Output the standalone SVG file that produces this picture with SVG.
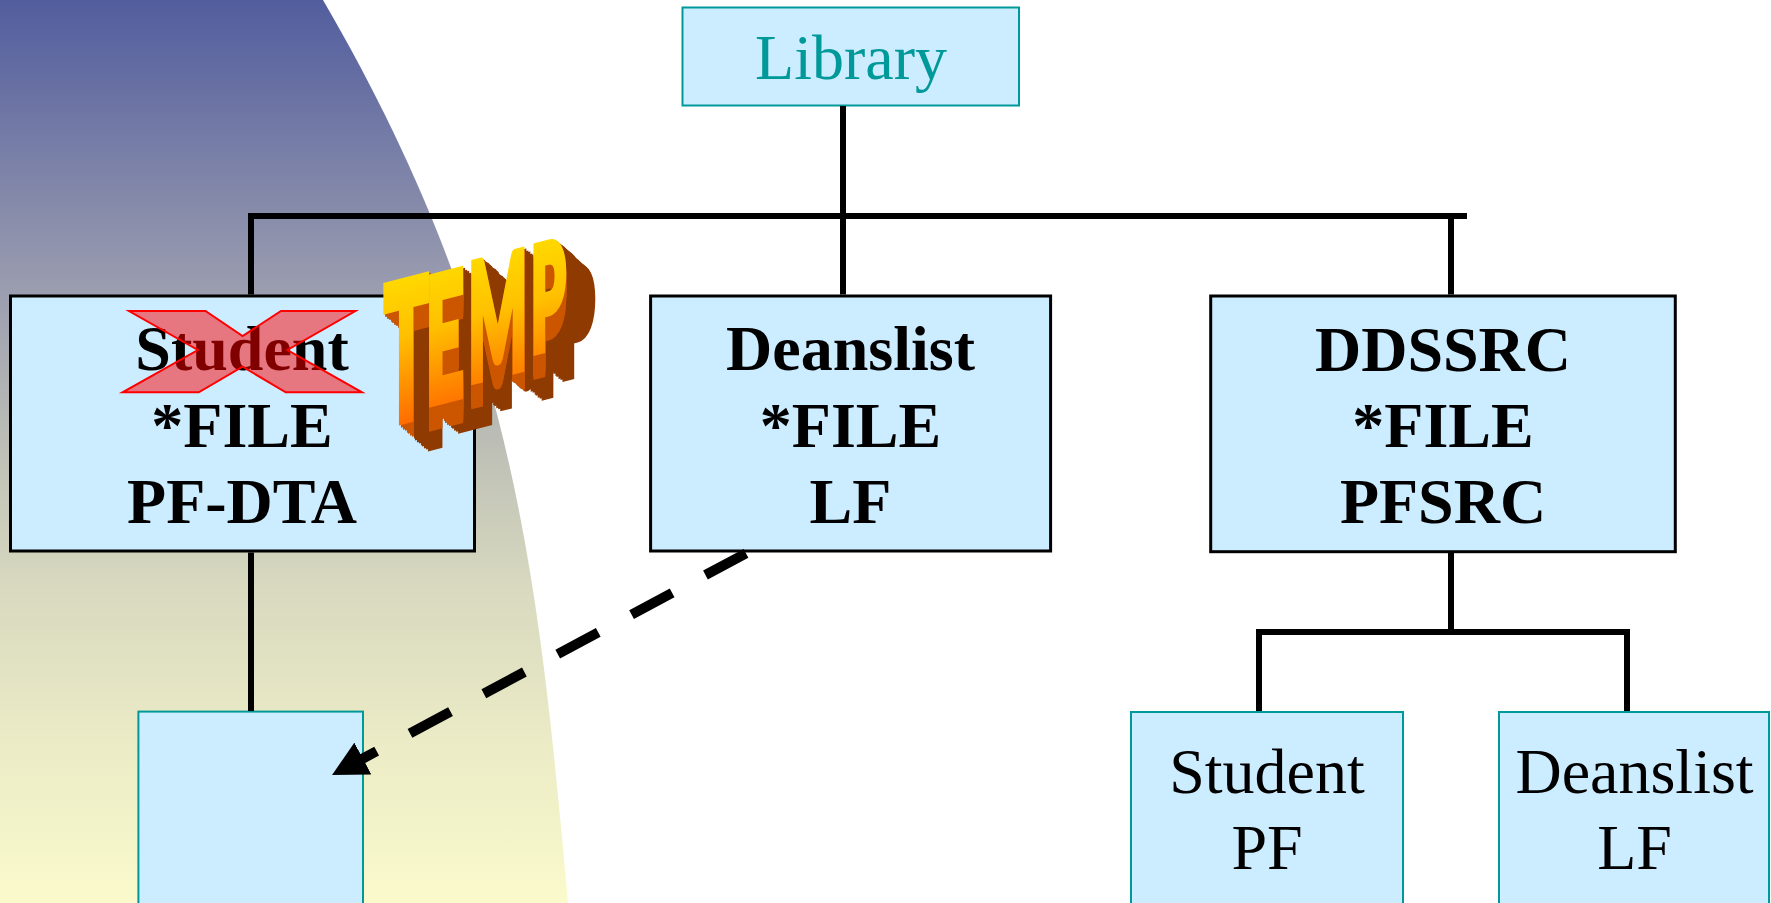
<svg xmlns="http://www.w3.org/2000/svg" width="1771" height="903" viewBox="0 0 1771 903">
  <style>
    .box { fill: #CCECFF; stroke: #000; stroke-width: 3; }
    .tbox { fill: #CCECFF; stroke: #009999; stroke-width: 2; }
    .bold { font-family: "Liberation Serif", "Times New Roman", serif; font-size: 64px; font-weight: bold; text-anchor: middle; fill: #000; }
    .reg { font-family: "Liberation Serif", "Times New Roman", serif; font-size: 64px; text-anchor: middle; fill: #000; }
    .conn { fill: none; stroke: #000; stroke-width: 6; stroke-linejoin: miter; }
    .dash { fill: none; stroke: #000; stroke-width: 10; stroke-dasharray: 46 37.8; }
  </style>
  <defs>
    <linearGradient id="bg" gradientUnits="userSpaceOnUse" x1="0" y1="0" x2="0" y2="903">
      <stop offset="0" stop-color="#525D9E"/>
      <stop offset="0.3" stop-color="#9699AE"/>
      <stop offset="0.5" stop-color="#BEC0B6"/>
      <stop offset="0.65" stop-color="#D8D9BF"/>
      <stop offset="0.82" stop-color="#EBEBC6"/>
      <stop offset="1" stop-color="#FAFACC"/>
    </linearGradient>
    <linearGradient id="tempFace" x1="0" y1="0" x2="0" y2="1">
      <stop offset="0" stop-color="#FFEC00"/>
      <stop offset="0.45" stop-color="#FFC000"/>
      <stop offset="1" stop-color="#FF4A00"/>
    </linearGradient>
    <marker id="ah" markerUnits="userSpaceOnUse" markerWidth="35" markerHeight="36" viewBox="0 0 35 36" refX="1" refY="18" orient="auto">
      <path d="M0,0 L35,18 L0,36 Z" fill="#000"/>
    </marker>
    <filter id="extrude" x="-15%" y="-15%" width="150%" height="150%" color-interpolation-filters="sRGB">
      <feOffset in="SourceAlpha" dx="1.8" dy="1.6" result="s1"/>
      <feMerge result="u1"><feMergeNode in="SourceAlpha"/><feMergeNode in="s1"/></feMerge>
      <feOffset in="u1" dx="3.6" dy="3.2" result="s2"/>
      <feMerge result="u2"><feMergeNode in="u1"/><feMergeNode in="s2"/></feMerge>
      <feOffset in="u2" dx="7.2" dy="6.4" result="s3"/>
      <feMerge result="u3"><feMergeNode in="u2"/><feMergeNode in="s3"/></feMerge>
      <feOffset in="u3" dx="14.4" dy="12.8" result="s4"/>
      <feMerge result="u4"><feMergeNode in="u3"/><feMergeNode in="s4"/></feMerge>
      <feOffset in="u4" dx="1.8" dy="1.6" result="ext"/>
      <feOffset in="SourceAlpha" dx="0" dy="1.6" result="d1"/>
      <feMerge result="v1"><feMergeNode in="SourceAlpha"/><feMergeNode in="d1"/></feMerge>
      <feOffset in="v1" dx="0" dy="3.2" result="d2"/>
      <feMerge result="v2"><feMergeNode in="v1"/><feMergeNode in="d2"/></feMerge>
      <feOffset in="v2" dx="0" dy="6.4" result="d3"/>
      <feMerge result="v3"><feMergeNode in="v2"/><feMergeNode in="d3"/></feMerge>
      <feOffset in="v3" dx="0" dy="12.8" result="d4"/>
      <feMerge result="v4"><feMergeNode in="v3"/><feMergeNode in="d4"/></feMerge>
      <feComposite in="v4" in2="ext" operator="in" result="downExt"/>
      <feFlood flood-color="#8E3A00" result="darkC"/>
      <feComposite in="darkC" in2="ext" operator="in" result="dark"/>
      <feFlood flood-color="#CC5500" result="lightC"/>
      <feComposite in="lightC" in2="downExt" operator="in" result="light"/>
      <feMerge>
        <feMergeNode in="dark"/>
        <feMergeNode in="light"/>
        <feMergeNode in="SourceGraphic"/>
      </feMerge>
    </filter>
  </defs>

  <rect width="1771" height="903" fill="#FFFFFF"/>
  <path id="backdrop" d="M0,0 H323 C515,330 538,573 568,903 H0 Z" fill="url(#bg)"/>

  <g id="library">
    <rect class="tbox" x="682.5" y="7.5" width="336.5" height="98"/>
    <text x="851" y="79" font-family="Liberation Serif, Times New Roman, serif" font-size="64" text-anchor="middle" fill="#009999">Library</text>
  </g>

  <g id="student-file">
    <rect class="box" x="10.5" y="296" width="464" height="255"/>
    <text class="bold" x="242" y="370">Student</text>
    <text class="bold" x="242" y="446.7">*FILE</text>
    <text class="bold" x="242" y="523">PF-DTA</text>
    <polygon id="cross-out" points="129,311 205.5,311 242.6,336 281,311 355.4,311 287.4,350 362,392.3 285.7,392.3 242.6,366.7 198.8,392.3 122.6,392.3 197.8,350" fill="#FF0000" fill-opacity="0.5" stroke="#FF0000" stroke-width="2" stroke-linejoin="miter"/>
  </g>

  <g id="deanslist-file">
    <rect class="box" x="650.6" y="296" width="400" height="255"/>
    <text class="bold" x="850.5" y="370">Deanslist</text>
    <text class="bold" x="850.5" y="446.7">*FILE</text>
    <text class="bold" x="850.5" y="523">LF</text>
  </g>

  <g id="ddssrc-file">
    <rect class="box" x="1210.7" y="296" width="464.6" height="255.7"/>
    <text class="bold" x="1443" y="370.7">DDSSRC</text>
    <text class="bold" x="1443" y="446.7">*FILE</text>
    <text class="bold" x="1443" y="523">PFSRC</text>
  </g>

  <g id="temp-member">
    <rect class="tbox" x="138.4" y="711.6" width="224.6" height="200"/>
  </g>

  <g id="student-pf">
    <rect class="tbox" x="1131" y="712" width="272" height="200"/>
    <text class="reg" x="1267" y="793">Student</text>
    <text class="reg" x="1267" y="869">PF</text>
  </g>

  <g id="deanslist-lf">
    <rect class="tbox" x="1499" y="712" width="270" height="200"/>
    <text class="reg" x="1634.5" y="793">Deanslist</text>
    <text class="reg" x="1634.5" y="869">LF</text>
  </g>

  <g id="connectors">
    <path class="conn" d="M843,106 V294.5"/>
    <path class="conn" d="M251,294.5 V216 H1467"/>
    <path class="conn" d="M1451,216 V294.5"/>
    <path class="conn" d="M251,552.5 V711"/>
    <path class="conn" d="M1451,553 V632"/>
    <path class="conn" d="M1259,711 V632 H1627 V711"/>
    <path class="dash" d="M746,553.3 L362,759" marker-end="url(#ah)"/>
  </g>

  <g id="temp-wordart" filter="url(#extrude)">
    <text transform="translate(384,289) skewY(-14.5) scale(0.85,2.2)" font-family="Lato, Inter, Liberation Sans, sans-serif" font-weight="900" fill="url(#tempFace)" stroke="url(#tempFace)" stroke-width="4" stroke-linejoin="miter"><tspan x="0" y="61.8" font-size="86.3">T</tspan><tspan x="49" y="57.3" font-size="78">E</tspan><tspan x="99" y="52" font-size="73">M</tspan><tspan x="173" y="46" font-size="65">P</tspan></text>
  </g>
</svg>
